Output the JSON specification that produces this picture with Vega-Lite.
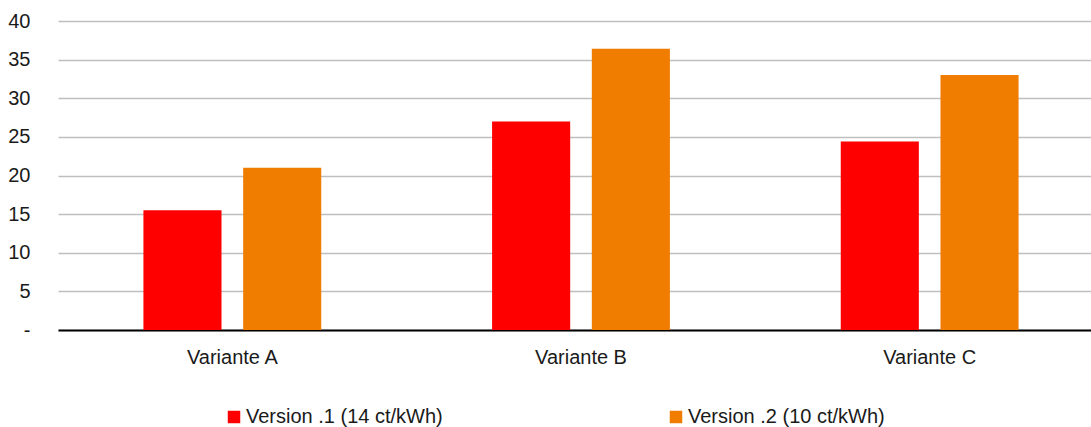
{
  "$schema": "https://vega.github.io/schema/vega-lite/v6.json",
  "autosize": {"type": "none"},
  "padding": {"left": 58, "top": 21, "right": 0, "bottom": 97},
  "width": 1046,
  "height": 309,
  "background": "white",
  "config": {
    "view": {"stroke": null},
    "font": "Liberation Sans",
    "axis": {"labelFont": "Liberation Sans", "labelColor": "#1a1a1a"},
    "legend": {"labelFont": "Liberation Sans", "labelColor": "#1a1a1a"}
  },
  "data": {
    "values": [
      {"variante": "Variante A", "version": "Version .1 (14 ct/kWh)", "wert": 15.5},
      {"variante": "Variante A", "version": "Version .2 (10 ct/kWh)", "wert": 21.0},
      {"variante": "Variante B", "version": "Version .1 (14 ct/kWh)", "wert": 27.0},
      {"variante": "Variante B", "version": "Version .2 (10 ct/kWh)", "wert": 36.4},
      {"variante": "Variante C", "version": "Version .1 (14 ct/kWh)", "wert": 24.4},
      {"variante": "Variante C", "version": "Version .2 (10 ct/kWh)", "wert": 33.0}
    ]
  },
  "mark": {"type": "bar"},
  "encoding": {
    "x": {
      "field": "variante",
      "type": "nominal",
      "scale": {"paddingInner": 0.49, "paddingOuter": 0.245},
      "axis": {
        "title": null,
        "labelAngle": 0,
        "ticks": false,
        "labelFontSize": 20,
        "labelPadding": 17,
        "domainColor": "#000000",
        "domainWidth": 2,
        "grid": false
      }
    },
    "xOffset": {
      "field": "version",
      "type": "nominal",
      "scale": {"paddingInner": 0.217, "paddingOuter": 0}
    },
    "y": {
      "field": "wert",
      "type": "quantitative",
      "scale": {"domain": [0, 40], "nice": false},
      "axis": {
        "title": null,
        "values": [0, 5, 10, 15, 20, 25, 30, 35, 40],
        "labelExpr": "datum.value == 0 ? '-' : datum.label",
        "ticks": false,
        "domain": false,
        "labelFontSize": 20,
        "labelPadding": 28,
        "gridColor": "#bfbfbf",
        "gridWidth": 1.5
      }
    },
    "color": {
      "field": "version",
      "type": "nominal",
      "scale": {"range": ["#ff0000", "#f07d00"]},
      "legend": {
        "title": null,
        "orient": "none",
        "direction": "horizontal",
        "legendX": 166,
        "legendY": 386,
        "symbolType": "square",
        "symbolSize": 156,
        "symbolStrokeWidth": 0,
        "labelFontSize": 20,
        "labelOffset": 2,
        "labelLimit": 0,
        "columnPadding": 223,
        "padding": 0
      }
    }
  }
}
